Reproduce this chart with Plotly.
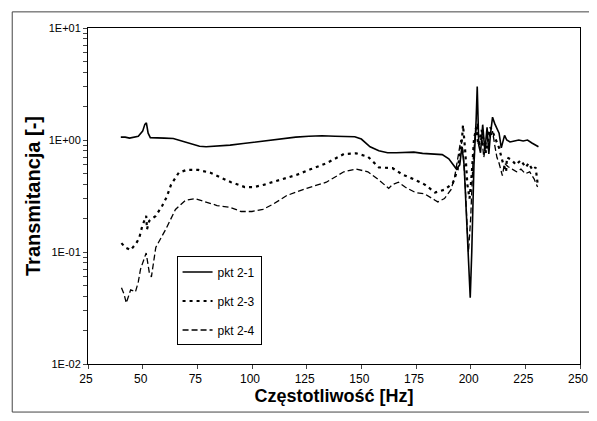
import plotly.graph_objects as go

# pkt 2-1 (solid)
f21 = [40, 42, 44, 46, 48, 50, 51, 51.7, 52.5, 53.5, 56, 60, 64, 68, 72, 76, 79, 84, 90, 96,
       102, 108, 114, 120, 126, 132, 138, 144, 147, 150, 154, 158, 162, 166, 170, 174, 178, 182,
       184, 187, 190, 192, 193.5, 195, 196, 197, 198, 199, 199.8, 200.5, 201.5, 202.5, 203, 203.7,
       204.5, 205.5, 206.5, 207.5, 208.3, 209, 210, 211, 212, 213, 214, 215.5, 216.5, 218, 220,
       222, 224, 226, 228, 230, 231]
t21 = [1.06, 1.06, 1.04, 1.06, 1.08, 1.2, 1.38, 1.42, 1.15, 1.05, 1.05, 1.04, 1.03, 0.98, 0.93,
       0.88, 0.87, 0.88, 0.9, 0.93, 0.96, 1.0, 1.03, 1.06, 1.08, 1.09, 1.08, 1.08, 1.07, 1.02, 0.87,
       0.8, 0.77, 0.77, 0.78, 0.78, 0.76, 0.75, 0.74, 0.74, 0.68, 0.6, 0.55, 0.6, 0.87, 0.6, 0.2,
       0.07, 0.039, 0.1, 0.6, 1.5, 3.0, 0.9, 0.77, 1.37, 0.8, 1.3, 0.75, 1.1, 1.6, 1.4, 1.28, 1.15,
       0.85, 1.1, 1.0, 0.96, 0.98, 1.0, 0.98, 1.0, 0.94, 0.9, 0.87]

# pkt 2-3 (dotted)
f23 = [40.3, 42, 44.5, 47.1, 48.4, 49.8, 51.6, 52, 53, 56, 59, 61, 63, 66.5, 70, 75.5, 81, 86,
       90.4, 96.7, 101, 105.7, 112.9, 120.6, 127, 134, 142, 147.6, 153, 158, 164.3, 169, 174.7,
       179, 183.7, 188, 191.8, 194, 196, 196.5, 197.5, 198.5, 199.5, 200.5, 201.5, 202.5, 203.5,
       205, 207, 209, 210.3, 213, 214.4, 216.2, 216.6, 218.9, 220.7, 222.9, 225.2, 226.5, 228.3,
       229.7, 230.6]
t23 = [0.12, 0.11, 0.104, 0.12, 0.133, 0.17, 0.21, 0.16, 0.19, 0.21, 0.26, 0.31, 0.4, 0.51, 0.54,
       0.54, 0.51, 0.46, 0.42, 0.38, 0.38, 0.4, 0.44, 0.49, 0.55, 0.62, 0.75, 0.76, 0.71, 0.57,
       0.56, 0.49, 0.44, 0.4, 0.34, 0.36, 0.41, 0.54, 1.0, 1.36, 0.8, 0.4, 0.3, 0.5, 1.0, 1.3, 0.9,
       1.23, 0.77, 1.3, 1.15, 0.85, 0.66, 0.52, 0.7, 0.66, 0.6, 0.66, 0.57, 0.62, 0.54, 0.57, 0.41]

# pkt 2-4 (dashed)
f24 = [40.3, 41.5, 42.5, 44.5, 46.7, 48, 49, 51.6, 53, 54, 56, 60.6, 65, 69.6, 74, 78.6, 84, 90,
       95, 100, 105, 110, 116, 125, 134, 142, 147.6, 153, 158, 162.5, 164.3, 167, 170, 174.7, 179,
       183.7, 185, 188, 191, 192.7, 194, 195.5, 196.5, 197.5, 198.5, 199, 200, 201, 202, 203, 204,
       205, 206, 207, 208, 209, 210, 211, 212, 213, 214.5, 215.5, 217, 219, 221, 223, 225, 227,
       229, 230.6]
t24 = [0.048, 0.042, 0.035, 0.046, 0.044, 0.054, 0.07, 0.098, 0.066, 0.06, 0.11, 0.16, 0.24, 0.29,
       0.3, 0.28, 0.26, 0.25, 0.23, 0.23, 0.24, 0.27, 0.32, 0.37, 0.42, 0.52, 0.55, 0.52, 0.44,
       0.37, 0.4, 0.42, 0.38, 0.34, 0.33, 0.29, 0.28, 0.3, 0.36, 0.47, 0.7, 1.0, 0.8, 0.4, 0.15,
       0.1, 0.2, 0.6, 1.1, 1.4, 0.9, 1.1, 0.7, 0.9, 1.2, 1.05, 1.2, 0.9, 0.7, 0.62, 0.48, 0.62,
       0.58, 0.55, 0.52, 0.55, 0.5, 0.52, 0.45, 0.38]

x_ticks = [25, 50, 75, 100, 125, 150, 175, 200, 225, 250]
y_major = [0.01, 0.1, 1, 10]
y_major_text = ["1E-02", "1E-01", "1E+00", "1E+01"]

yvals, ytext = [], []
for dec in [0.01, 0.1, 1]:
    for m in range(1, 10):
        yvals.append(dec * m)
        ytext.append(y_major_text[y_major.index(dec)] if m == 1 else "")
yvals.append(10)
ytext.append("1E+01")

fig = go.Figure()
fig.add_trace(go.Scatter(x=f21, y=t21, mode="lines", name="pkt 2-1", legendgroup="a",
                         line=dict(color="black", width=1.6)))
fig.add_trace(go.Scatter(x=f23, y=t23, mode="lines", name="pkt 2-3", legendgroup="b",
                         line=dict(color="black", width=2.2, dash="3px,4px")))
fig.add_trace(go.Scatter(x=f24, y=t24, mode="lines", name="pkt 2-4", legendgroup="c",
                         line=dict(color="black", width=1.3, dash="6px,3px")))

# page body has an 8px default margin, so the figure is sized/offset to compensate
fig.update_layout(
    width=581, height=405,
    margin=dict(l=80, r=9, t=20, b=49),
    paper_bgcolor="white", plot_bgcolor="white",
    font=dict(family="Liberation Sans, Arial, sans-serif", color="black", size=11),
    showlegend=True,
    legend=dict(x=0.18, y=0.32, xanchor="left", yanchor="top",
                bordercolor="black", borderwidth=1, bgcolor="white",
                font=dict(size=12), tracegroupgap=10,
                itemwidth=30),
    shapes=[dict(type="rect", xref="paper", yref="paper", x0=-0.154, x1=1.1, y0=-0.143, y1=1.048,
                 line=dict(color="#444", width=1), fillcolor="rgba(0,0,0,0)", layer="below")],
)
fig.update_xaxes(range=[25, 250], tickvals=x_ticks, ticks="outside", ticklen=4,
                 showline=True, linecolor="black", linewidth=1, mirror=True, automargin=False,
                 ticklabeloverflow="allow", ticklabelshift=-2,
                 showgrid=False, zeroline=False, tickfont=dict(size=12),
                 title=dict(text="<b>Częstotliwość [Hz]</b>", font=dict(size=18), standoff=2))
fig.update_yaxes(type="log", range=[-2, 1], tickvals=yvals, ticktext=ytext,
                 ticks="outside", ticklen=4, automargin=False,
                 showline=True, linecolor="black", linewidth=1, mirror=True,
                 showgrid=False, zeroline=False, tickfont=dict(size=11),
                 title=dict(text="<b>Transmitancja [-]</b>", font=dict(size=20), standoff=2))

fig.write_html("out.html")
